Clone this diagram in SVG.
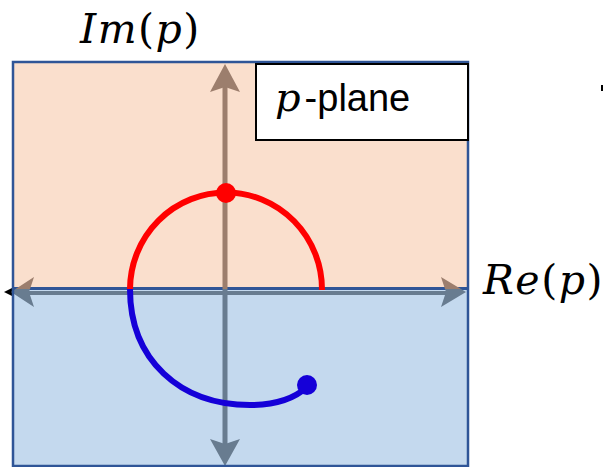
<svg xmlns="http://www.w3.org/2000/svg" width="603" height="467" viewBox="0 0 603 467">
<style>
.serif{font-family:"DejaVu Serif","Liberation Serif",serif;font-size:40px;fill:#000}
.lbl{font-size:41px;letter-spacing:1.5px}
.it{font-style:italic}
.sans{font-family:"Liberation Sans","Open Sans",sans-serif;font-size:38px;fill:#000}
.axisTop{fill:#9C7E6D}
.axisBot{fill:#687C90}
</style>
<defs>
<clipPath id="topHalf"><rect x="0" y="0" width="603" height="289"/></clipPath>
<clipPath id="botHalf"><rect x="0" y="289" width="603" height="178"/></clipPath>
<g id="axesShape">
<rect x="222.5" y="80" width="5" height="372"/>
<polygon points="225,64 240,92 225,87 210,92"/>
<polygon points="225,466 240,439 225,444 210,439"/>
<rect x="24" y="291" width="428" height="4"/>
<polygon points="11,292 34,277 29,292 34,307"/>
<polygon points="466,292 441,277 446,292 441,307"/>
</g>
</defs>
<g id="plane">
<rect x="13" y="62" width="455" height="227" fill="#FADFCD"/>
<rect x="13" y="289" width="455" height="177" fill="#C4D9EE"/>
<line x1="13" y1="288.5" x2="468" y2="288.5" stroke="#2F5597" stroke-width="3"/>
</g>
<g id="connectors">
<polygon points="4,292 12,288 12,296" fill="#000"/>
<use href="#axesShape" class="axisTop" clip-path="url(#topHalf)"/>
<use href="#axesShape" class="axisBot" clip-path="url(#botHalf)"/>
</g>
<g id="curve">
<path d="M322,290 A96,97 0 0 0 130,289" fill="none" stroke="#FF0000" stroke-width="6"/>
<path d="M130,289 C130,360 180,405 250,405 C275,405 295,398 307,387" fill="none" stroke="#1500D8" stroke-width="6"/>
<circle cx="226" cy="193" r="10" fill="#FF0000"/>
<circle cx="307" cy="385" r="10" fill="#1500D8"/>
</g>
<g id="frame">
<rect x="13" y="62" width="455" height="404" fill="none" stroke="#2F5597" stroke-width="2.5"/>
</g>
<g id="label-box">
<rect x="256" y="64" width="212" height="76" fill="#FFFFFF" stroke="#000" stroke-width="2"/>
<text x="275" y="111" class="sans"><tspan class="serif it">p</tspan><tspan dx="4">-plane</tspan></text>
</g>
<g id="im-label">
<text x="80" y="43" class="serif lbl"><tspan class="it">Im</tspan>(<tspan class="it">p</tspan>)</text>
</g>
<g id="re-label">
<text x="483" y="294" class="serif lbl"><tspan class="it">Re</tspan>(<tspan class="it">p</tspan>)</text>
</g>
<rect x="601" y="85" width="2" height="6" fill="#000"/>
</svg>
